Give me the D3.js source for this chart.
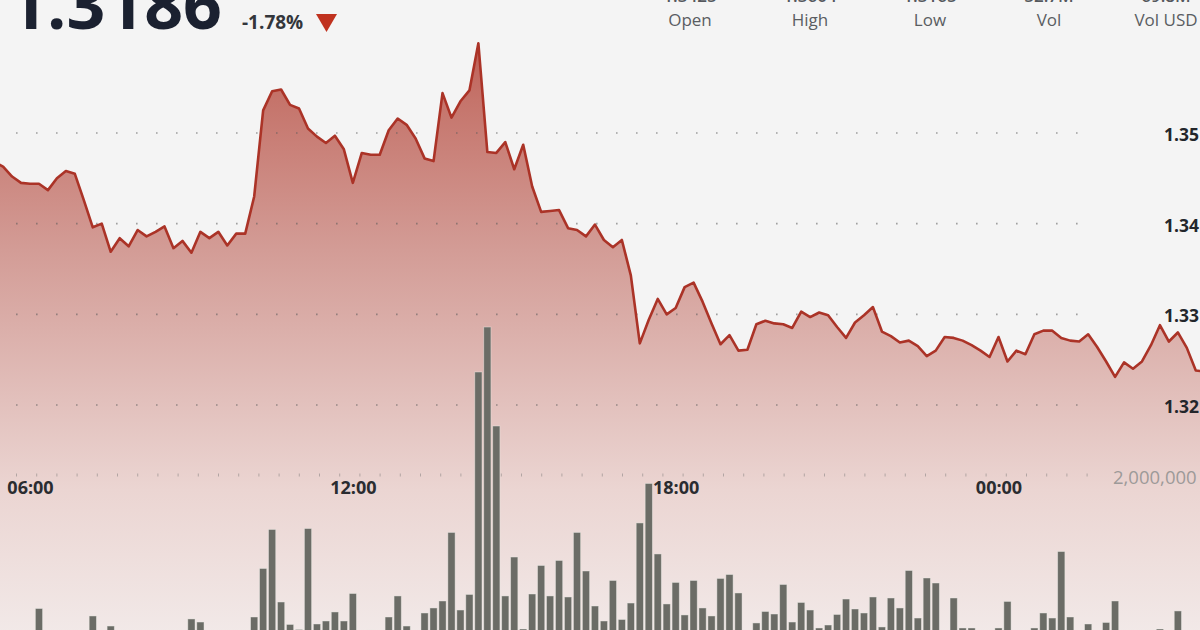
<!DOCTYPE html>
<html>
<head>
<meta charset="utf-8">
<script src="https://cdn.jsdelivr.net/npm/d3@7/dist/d3.min.js"></script>
<style>
  html, body { margin: 0; padding: 0; background: #f4f4f4; overflow: hidden; }
  svg { display: block; }
</style>
</head>
<body>
<svg id="chart" width="1200" height="630"></svg>
<script>
// ---------------- DATA ----------------
// 10-minute samples starting 05:20
const startTime = "2024-01-01T05:20:00";
const stepMinutes = 10;

const prices = [
  1.3468, 1.3463, 1.3452, 1.3445, 1.3444, 1.3444, 1.3437, 1.3450, 1.3458, 1.3455,
  1.3426, 1.3396, 1.3400, 1.3369, 1.3384, 1.3375, 1.3393, 1.3386, 1.3391, 1.3397,
  1.3373, 1.3381, 1.3368, 1.3391, 1.3384, 1.3391, 1.3376, 1.3389, 1.3389, 1.3430,
  1.3525, 1.3546, 1.3548, 1.3531, 1.3527, 1.3505, 1.3496, 1.3489, 1.3497, 1.3482,
  1.3445, 1.3478, 1.3476, 1.3476, 1.3503, 1.3516, 1.3509, 1.3494, 1.3472, 1.3469,
  1.3544, 1.3517, 1.3535, 1.3547, 1.3599, 1.3479, 1.3478, 1.3490, 1.3460, 1.3487,
  1.3441, 1.3413, 1.3414, 1.3415, 1.3395, 1.3393, 1.3386, 1.3399, 1.3382, 1.3374,
  1.3382, 1.3343, 1.3268, 1.3294, 1.3317, 1.3300, 1.3307, 1.3330, 1.3335, 1.3314,
  1.3290, 1.3267, 1.3277, 1.3260, 1.3261, 1.3289, 1.3293, 1.3290, 1.3289, 1.3285,
  1.3303, 1.3297, 1.3302, 1.3299, 1.3286, 1.3274, 1.3291, 1.3299, 1.3308, 1.3281,
  1.3276, 1.3269, 1.3271, 1.3265, 1.3254, 1.3260, 1.3275, 1.3274, 1.3271, 1.3266,
  1.3260, 1.3253, 1.3275, 1.3248, 1.3260, 1.3256, 1.3278, 1.3282, 1.3282, 1.3274,
  1.3271, 1.3270, 1.3278, 1.3264, 1.3248, 1.3231, 1.3247, 1.3240, 1.3248, 1.3266,
  1.3288, 1.3270, 1.3280, 1.3263, 1.3238, 1.3237
];

const volumes = [
  0, 0, 0, 0, 0, 299000, 0, 0, 0, 0,
  0, 204000, 0, 76000, 0, 0, 0, 0, 0, 0,
  0, 0, 166000, 127000, 0, 0, 0, 0, 0, 191000,
  809000, 1306000, 382000, 96000, 32000, 1318000, 102000, 140000, 255000, 140000,
  490000, 0, 25000, 0, 191000, 459000, 76000, 0, 242000, 306000,
  395000, 1268000, 280000, 478000, 3312000, 3885000, 2624000, 459000, 955000, 38000,
  484000, 847000, 459000, 911000, 446000, 1268000, 777000, 331000, 140000, 656000,
  159000, 369000, 1389000, 1892000, 994000, 357000, 631000, 217000, 656000, 306000,
  204000, 682000, 732000, 497000, 0, 115000, 261000, 229000, 605000, 127000,
  376000, 280000, 51000, 89000, 223000, 420000, 293000, 242000, 446000, 64000,
  433000, 306000, 783000, 178000, 688000, 624000, 0, 433000, 51000, 51000,
  0, 0, 51000, 389000, 0, 0, 51000, 242000, 178000, 1025000,
  191000, 0, 102000, 0, 121000, 395000, 0, 0, 0, 0,
  38000, 0, 268000, 0, 0, 0
];

const priceTicks = [1.32, 1.33, 1.34, 1.35];
const volumeTicks = [2000000];
const timeTickLabels = ["06:00", "12:00", "18:00", "00:00"];
const timeTickValues = ["2024-01-01T06:00:00", "2024-01-01T12:00:00", "2024-01-01T18:00:00", "2024-01-02T00:00:00"];

const lastPrice = "1.3186";
const changePct = "-1.78%";
const statLabels = ["Open", "High", "Low", "Vol", "Vol USD"];
const statValues = ["1.3425", "1.3604", "1.3165", "52.7M", "69.8M"];

// ---------------- CHART ----------------
const W = 1200, H = 630;
const svg = d3.select("#chart");
const parse = s => new Date(s);
const t0 = parse(startTime);
const rows = prices.map((p, i) => ({
  t: d3.timeMinute.offset(t0, i * stepMinutes),
  p: p,
  v: volumes[i]
}));
const tickDates = timeTickValues.map(parse);

const x = d3.scaleTime()
  .domain([tickDates[0], tickDates[3]])
  .range([30, 998.5]);
const y = d3.scaleLinear().domain([1.32, 1.35]).range([405, 133]);
const yv = d3.scaleLinear().domain([0, 2000000]).range([632, 475]);

svg.append("rect").attr("width", W).attr("height", H).attr("fill", "#f4f4f4");

const defs = svg.append("defs");
const grad = defs.append("linearGradient")
  .attr("id", "areaGrad")
  .attr("gradientUnits", "userSpaceOnUse")
  .attr("x1", 0).attr("y1", 40).attr("x2", 0).attr("y2", 640);
[
  [0, "#bd5d54"], [0.1, "#c5746b"], [0.35, "#d39c96"],
  [0.6, "#e2c0bc"], [0.75, "#ebd5d2"], [1, "#f2eae9"]
].forEach(([o, c]) => grad.append("stop").attr("offset", o).attr("stop-color", c));

// area
const area = d3.area()
  .x(d => x(d.t))
  .y0(H + 10)
  .y1(d => y(d.p));
svg.append("path").datum(rows).attr("d", area).attr("fill", "url(#areaGrad)");

// price grid (dotted)
const gGrid = svg.append("g");
priceTicks.forEach(v => {
  gGrid.append("line")
    .attr("x1", 16).attr("x2", 1082)
    .attr("y1", y(v)).attr("y2", y(v))
    .attr("stroke", "rgba(90,90,90,0.55)")
    .attr("stroke-width", 1.6)
    .attr("stroke-dasharray", "1.6,18.4");
});
// volume grid (small vertical ticks)
volumeTicks.forEach(v => {
  gGrid.append("line")
    .attr("x1", 16).attr("x2", 1104)
    .attr("y1", yv(v)).attr("y2", yv(v))
    .attr("stroke", "rgba(110,110,110,0.45)")
    .attr("stroke-width", 3)
    .attr("stroke-dasharray", "1,19.2");
});

// volume bars
const barW = 7.2;
svg.append("g").selectAll("rect")
  .data(rows.filter(d => d.v > 0))
  .join("rect")
  .attr("x", d => x(d.t) - barW / 2)
  .attr("width", barW)
  .attr("y", d => yv(d.v))
  .attr("height", d => yv(0) - yv(d.v))
  .attr("fill", "#6b6c66")
  .attr("stroke", "rgba(235,235,230,0.55)")
  .attr("stroke-width", 0.8);

// price line
const line = d3.line().x(d => x(d.t)).y(d => y(d.p));
svg.append("path").datum(rows).attr("d", line)
  .attr("fill", "none")
  .attr("stroke", "#ab3327")
  .attr("stroke-width", 2.6)
  .attr("stroke-linejoin", "round");

// right price axis
const yAxis = d3.axisRight(y).tickValues(priceTicks).tickSize(0).tickPadding(0)
  .tickFormat(d3.format(".2f"));
const gy = svg.append("g").attr("transform", "translate(1164,2)").call(yAxis);
gy.select(".domain").remove();
gy.selectAll("text")
  .attr("fill", "#23262b")
  .style("font-family", "'Open Sans', sans-serif")
  .style("font-weight", "700")
  .style("font-size", "17.5px");

// volume axis label
const vAxis = d3.axisRight(yv).tickValues(volumeTicks).tickSize(0).tickPadding(0)
  .tickFormat(d3.format(","));
const gv = svg.append("g").attr("transform", "translate(1113,3)").call(vAxis);
gv.select(".domain").remove();
gv.selectAll("text")
  .attr("fill", "#9d9a99")
  .style("font-family", "'Open Sans', sans-serif")
  .style("font-weight", "400")
  .style("font-size", "18.5px");

// time axis
const xAxis = d3.axisBottom(x).tickValues(tickDates).tickSize(0).tickPadding(0)
  .tickFormat((d, i) => timeTickLabels[i]);
const gx = svg.append("g").attr("transform", "translate(0,481)").call(xAxis);
gx.select(".domain").remove();
gx.selectAll("text")
  .attr("fill", "#2a2c30")
  .style("font-family", "'Open Sans', sans-serif")
  .style("font-weight", "700")
  .style("font-size", "18px");

// header
svg.append("text")
  .attr("x", 222).attr("y", 29)
  .attr("text-anchor", "end")
  .attr("fill", "#1b2130")
  .style("font-family", "'Open Sans', sans-serif")
  .style("font-weight", "700")
  .style("font-size", "68px")
  .text(lastPrice);

svg.append("text")
  .attr("x", 242).attr("y", 29)
  .attr("fill", "#33363b")
  .style("font-family", "'Open Sans', sans-serif")
  .style("font-weight", "700")
  .style("font-size", "19px")
  .text(changePct);

svg.append("path")
  .attr("d", "M316,14 L337,14 L326.5,32 Z")
  .attr("fill", "#c0321f");

const statX = [690, 810, 930, 1049, 1166];
statLabels.forEach((lab, i) => {
  svg.append("text")
    .attr("x", statX[i]).attr("y", 26)
    .attr("text-anchor", "middle")
    .attr("fill", "#5a5d62")
    .style("font-family", "'Open Sans', sans-serif")
    .style("font-size", "17px")
    .text(lab);
  svg.append("text")
    .attr("x", statX[i]).attr("y", 2)
    .attr("text-anchor", "middle")
    .attr("fill", "#55585d")
    .style("font-family", "'Open Sans', sans-serif")
    .style("font-weight", "600")
    .style("font-size", "17px")
    .text(statValues[i]);
});
</script>
</body>
</html>
